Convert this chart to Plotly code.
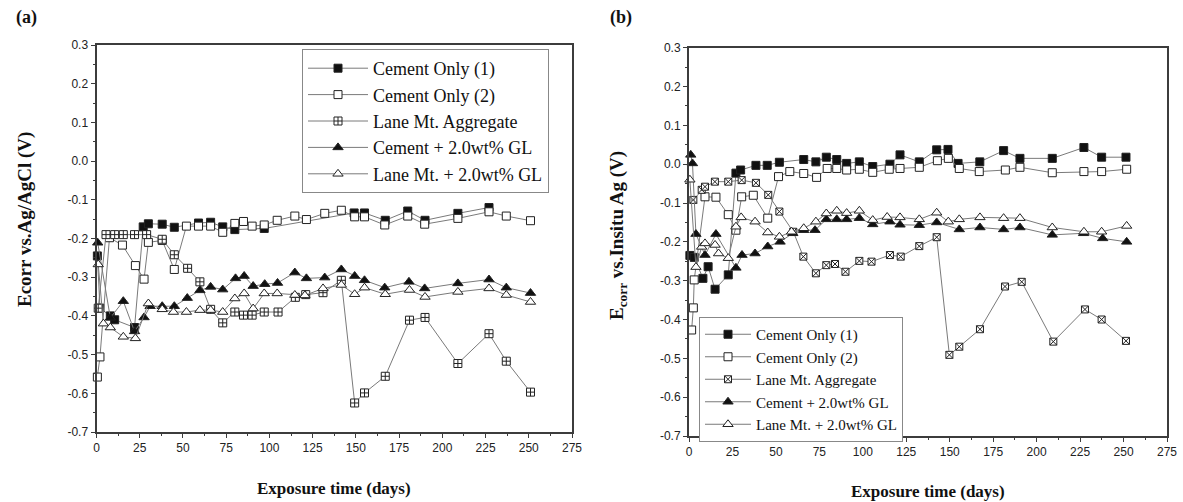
import plotly.graph_objects as go

# ---------------- data: panel (a), Ecorr vs. Ag/AgCl ----------------
cement1_a_days = [0.5, 2, 8, 10.5, 22, 27, 30, 38, 45, 59, 66, 73, 80, 97, 149, 155, 167, 180, 190, 209, 227]
cement1_a_vals = [-0.245, -0.38, -0.40, -0.41, -0.43, -0.17, -0.162, -0.163, -0.171, -0.16, -0.158, -0.17,
                  -0.177, -0.174, -0.134, -0.134, -0.153, -0.129, -0.153, -0.135, -0.12]

cement2_a_days = [0.5, 2, 7.5, 15, 22.5, 27.5, 30, 38, 45, 52, 59, 66, 73, 80, 85, 90, 97, 104.5, 114.7,
                  121.4, 132, 141.6, 149.3, 155, 166.7, 180, 189.8, 209, 227, 237, 251]
cement2_a_vals = [-0.558, -0.506, -0.198, -0.217, -0.27, -0.305, -0.21, -0.205, -0.28, -0.168, -0.168, -0.168,
                  -0.184, -0.161, -0.156, -0.168, -0.165, -0.153, -0.142, -0.151, -0.135, -0.127, -0.144,
                  -0.144, -0.165, -0.142, -0.163, -0.148, -0.131, -0.142, -0.154]

lane_a_days = [1, 5.5, 10.5, 15.5, 22, 29, 38, 45, 52.7, 59.8, 66, 73, 80, 85, 90, 97, 105, 115, 121, 131,
               141.6, 149.3, 155, 167, 181, 190, 209, 227, 237, 251]
lane_a_vals = [-0.38, -0.19, -0.19, -0.19, -0.19, -0.19, -0.202, -0.242, -0.277, -0.312, -0.383, -0.418,
               -0.39, -0.398, -0.398, -0.39, -0.39, -0.352, -0.345, -0.34, -0.308, -0.625, -0.599, -0.556,
               -0.411, -0.404, -0.523, -0.446, -0.517, -0.597]

cgl_a_days = [0.7, 8, 15.5, 22, 27.5, 31, 38, 45, 52.5, 59.8, 66, 73, 80.4, 85.4, 90.6, 97.3, 104.7, 114.7,
              121.4, 132, 141.6, 149.3, 155, 166.7, 180.7, 189.8, 209, 227, 237, 251]
cgl_a_vals = [-0.211, -0.405, -0.362, -0.44, -0.404, -0.375, -0.375, -0.375, -0.354, -0.334, -0.325, -0.332,
              -0.303, -0.297, -0.323, -0.318, -0.315, -0.288, -0.303, -0.301, -0.28, -0.297, -0.308, -0.327,
              -0.312, -0.329, -0.316, -0.306, -0.327, -0.341]

lgl_a_days = [1, 4, 8, 15.5, 22.5, 30, 38, 44.5, 52, 59.8, 66, 73, 80, 85.4, 90.6, 97, 104.5, 114.7, 120.5,
              131, 141.6, 149.3, 155, 167, 181, 190, 209, 227, 237, 251]
lgl_a_vals = [-0.267, -0.42, -0.43, -0.454, -0.458, -0.368, -0.383, -0.39, -0.39, -0.385, -0.385, -0.39,
              -0.355, -0.342, -0.381, -0.342, -0.342, -0.346, -0.347, -0.329, -0.32, -0.344, -0.327, -0.344,
              -0.333, -0.351, -0.338, -0.329, -0.346, -0.364]

# ---------------- data: panel (b), Ecorr vs. in-situ Ag ----------------
cement1_b_days = [0.5, 3, 8, 11, 15, 22.6, 27, 29.7, 38.5, 45, 52, 66, 73, 79, 85, 90.7, 98, 105.7, 115.6,
                  121.4, 132.5, 142.5, 149, 154.8, 167.3, 181, 190.4, 209, 227.2, 237.4, 251.4]
cement1_b_vals = [-0.235, -0.24, -0.294, -0.264, -0.322, -0.285, -0.023, -0.015, -0.003, -0.003, 0.005,
                  0.012, 0.006, 0.018, 0.012, 0.002, 0.006, -0.006, 0.0, 0.024, 0.006, 0.037, 0.038, 0.002,
                  0.006, 0.035, 0.015, 0.015, 0.043, 0.018, 0.018]

cement2_b_days = [1.5, 2.5, 3, 9.2, 15.5, 22.6, 27, 30.3, 37, 45.3, 51.5, 58, 66, 73.4, 79.5, 85, 90.7, 98,
                  105.7, 115.2, 121.4, 132.5, 142.9, 149.2, 155.5, 167, 182, 190.4, 209, 227.2, 237.4, 251.8]
cement2_b_vals = [-0.427, -0.37, -0.298, -0.084, -0.085, -0.13, -0.17, -0.084, -0.08, -0.139, -0.032, -0.019,
                  -0.024, -0.034, -0.011, -0.011, -0.015, -0.013, -0.021, -0.013, -0.011, -0.008, 0.009,
                  0.015, -0.011, -0.019, -0.015, -0.008, -0.022, -0.019, -0.019, -0.013]

lane_b_days = [2.5, 7.3, 9.2, 14.9, 22.6, 30.3, 38.5, 45.6, 52, 60, 65.8, 73, 79, 84, 90, 98, 105, 115.6,
               121.8, 132.5, 142.5, 149.8, 155.5, 167.4, 181.8, 191.4, 209.6, 227.8, 237.4, 251.4]
lane_b_vals = [-0.092, -0.066, -0.058, -0.045, -0.045, -0.041, -0.048, -0.079, -0.122, -0.174, -0.238, -0.281,
               -0.26, -0.257, -0.277, -0.249, -0.251, -0.234, -0.238, -0.211, -0.188, -0.491, -0.47, -0.425,
               -0.315, -0.303, -0.457, -0.374, -0.4, -0.455]

cgl_b_days = [1, 2, 4, 9.2, 15.5, 27, 30.5, 38, 45.3, 52.4, 59.7, 66, 72.5, 79, 85, 90.7, 98, 105.7, 115.6,
              121.4, 132.5, 142.5, 155.5, 167.4, 181, 190.4, 209, 227, 238, 251.8]
cgl_b_vals = [0.024, 0.002, -0.18, -0.234, -0.18, -0.267, -0.234, -0.23, -0.212, -0.2, -0.178, -0.17, -0.17,
              -0.142, -0.142, -0.142, -0.139, -0.155, -0.148, -0.156, -0.157, -0.15, -0.168, -0.163, -0.168,
              -0.163, -0.182, -0.178, -0.191, -0.2]

lgl_b_days = [0.5, 4, 7.3, 9.2, 15, 17, 22.6, 27, 30, 38, 45.3, 52, 59, 66, 73, 79, 85, 90.7, 98, 105.7, 114,
              121.4, 132.5, 142.5, 149.2, 155.5, 167.4, 181, 190.4, 209, 227.2, 237.4, 251.8]
lgl_b_vals = [-0.04, -0.265, -0.213, -0.204, -0.208, -0.23, -0.242, -0.161, -0.137, -0.148, -0.176, -0.187,
              -0.174, -0.165, -0.148, -0.127, -0.12, -0.126, -0.12, -0.144, -0.136, -0.137, -0.142, -0.125,
              -0.148, -0.142, -0.137, -0.139, -0.139, -0.163, -0.174, -0.174, -0.159]

series_names = ["Cement Only (1)", "Cement Only (2)", "Lane Mt. Aggregate",
                "Cement + 2.0wt% GL", "Lane Mt. + 2.0wt% GL"]

x_ticks = [0, 25, 50, 75, 100, 125, 150, 175, 200, 225, 250, 275]
y_ticks = [0.3, 0.2, 0.1, 0.0, -0.1, -0.2, -0.3, -0.4, -0.5, -0.6, -0.7]
y_tick_text = ["0.3", "0.2", "0.1", "0.0", "-0.1", "-0.2", "-0.3", "-0.4", "-0.5", "-0.6", "-0.7"]

W, H = 1183, 502
SERIF = "Liberation Serif, Times New Roman, serif"
SANS = "Liberation Sans, Arial, sans-serif"

# marker styles per series: (symbol, fill, size)
styles_a = [("square", "#111111", 8), ("square", "white", 8), ("square-cross", "white", 8),
            ("triangle-up", "#111111", 9), ("triangle-up", "white", 9)]
styles_b = [("square", "#111111", 8), ("square", "white", 8), ("square-x", "white", 7),
            ("triangle-up", "#111111", 9), ("triangle-up", "white", 9)]

panel_a = [(cement1_a_days, cement1_a_vals), (cement2_a_days, cement2_a_vals), (lane_a_days, lane_a_vals),
           (cgl_a_days, cgl_a_vals), (lgl_a_days, lgl_a_vals)]
panel_b = [(cement1_b_days, cement1_b_vals), (cement2_b_days, cement2_b_vals), (lane_b_days, lane_b_vals),
           (cgl_b_days, cgl_b_vals), (lgl_b_days, lgl_b_vals)]

fig = go.Figure()


def add_panel(data, styles, xa, ya, legend):
    for name, (d, v), (sym, fill, size) in zip(series_names, data, styles):
        fig.add_trace(go.Scatter(
            x=d, y=v, name=name, mode="lines+markers", xaxis=xa, yaxis=ya, legend=legend,
            cliponaxis=False,
            line=dict(color="#7a7a7a", width=1),
            marker=dict(symbol=sym, size=size, color=fill, line=dict(color="#222222", width=1)),
        ))


add_panel(panel_a, styles_a, "x", "y", "legend")
add_panel(panel_b, styles_b, "x2", "y2", "legend2")

AXIS_COLOR = "#3c3c3c"


def x_axis(domain, anchor):
    return dict(domain=domain, anchor=anchor, range=[0, 275], tickvals=x_ticks, ticks="outside", ticklen=4,
                tickwidth=1, tickcolor=AXIS_COLOR,
                minor=dict(dtick=12.5, tick0=0, ticks="outside", ticklen=2, tickcolor=AXIS_COLOR),
                showline=True, linecolor=AXIS_COLOR, linewidth=2, mirror=True, showgrid=False, zeroline=False,
                tickfont=dict(family=SANS, size=12, color="#222"), automargin=False)


def y_axis(domain, anchor):
    return dict(domain=domain, anchor=anchor, range=[-0.7, 0.3], tickvals=y_ticks, ticktext=y_tick_text,
                ticks="outside", ticklen=4, tickwidth=1, tickcolor=AXIS_COLOR,
                minor=dict(dtick=0.05, tick0=0, ticks="outside", ticklen=2, tickcolor=AXIS_COLOR),
                showline=True, linecolor=AXIS_COLOR, linewidth=2, mirror=True, showgrid=False, zeroline=False,
                tickfont=dict(family=SANS, size=12, color="#222"), automargin=False)


fig.update_layout(
    width=W, height=H, margin=dict(l=0, r=0, t=0, b=0),
    paper_bgcolor="white", plot_bgcolor="white",
    xaxis=x_axis([96.5 / W, 572 / W], "y"),
    yaxis=y_axis([1 - 432 / H, 1 - 45 / H], "x"),
    xaxis2=x_axis([689 / W, 1167 / W], "y2"),
    yaxis2=y_axis([1 - 436 / H, 1 - 47.7 / H], "x2"),
    legend=dict(x=302 / W, y=1 - 49 / H, xanchor="left", yanchor="top", bgcolor="white",
                bordercolor="#888", borderwidth=1, itemwidth=60, tracegroupgap=0,
                font=dict(family=SERIF, size=18, color="#111")),
    legend2=dict(x=699 / W, y=1 - 317 / H, xanchor="left", yanchor="top", bgcolor="white",
                 bordercolor="#888", borderwidth=1, itemwidth=46, tracegroupgap=0,
                 font=dict(family=SERIF, size=15, color="#111")),
    showlegend=True,
)

bold = dict(family=SERIF, color="#111")
annotations = [
    dict(text="<b>(a)</b>", x=14 / W, y=1 - 18 / H, font=dict(size=18, **bold)),
    dict(text="<b>(b)</b>", x=608 / W, y=1 - 18 / H, font=dict(size=18, **bold)),
    dict(text="<b>Exposure time (days)</b>", x=334 / W, y=1 - 488 / H, xanchor="center", font=dict(size=17, **bold)),
    dict(text="<b>Exposure time (days)</b>", x=928 / W, y=1 - 491 / H, xanchor="center", font=dict(size=17, **bold)),
    dict(text="<b>Ecorr vs.Ag/AgCl (V)</b>", x=25 / W, y=1 - 220 / H, textangle=-90, xanchor="center",
         font=dict(size=19, **bold)),
    dict(text="<b>E<sub>corr</sub> vs.Insitu Ag (V)</b>", x=618 / W, y=1 - 236 / H, textangle=-90,
         xanchor="center", font=dict(size=19, **bold)),
]
for a in annotations:
    a.setdefault("xanchor", "left")
    a.update(xref="paper", yref="paper", showarrow=False, yanchor="middle")
fig.update_layout(annotations=annotations)

fig.write_html("out.html")
